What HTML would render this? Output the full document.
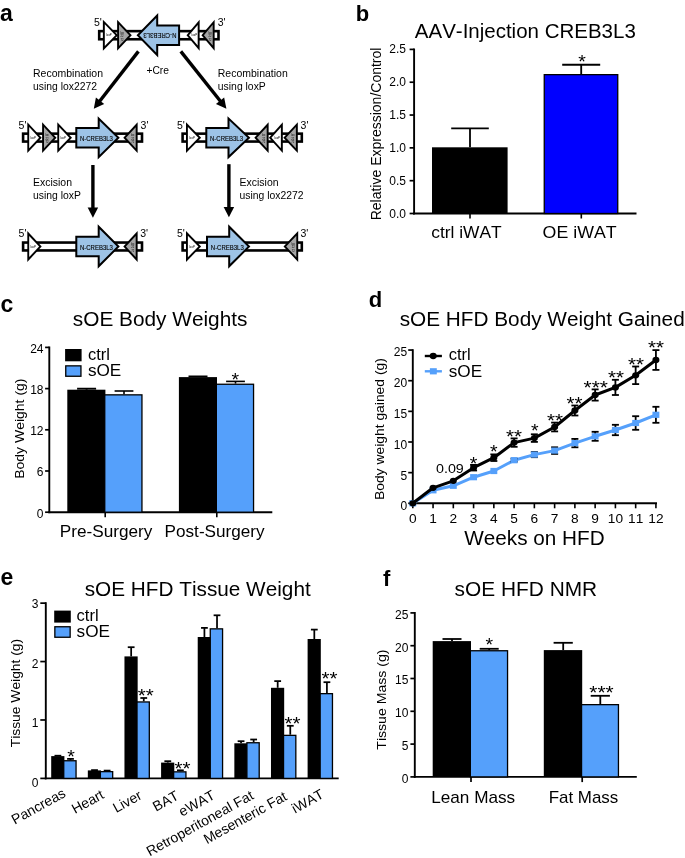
<!DOCTYPE html>
<html><head><meta charset="utf-8"><title>Figure</title>
<style>html,body{margin:0;padding:0;background:#fff}svg{display:block;will-change:transform}text{font-family:"Liberation Sans",sans-serif;fill:#000;font-kerning:none}</style></head><body>
<svg width="685" height="858" viewBox="0 0 685 858">
<rect width="685" height="858" fill="#fff"/>
<g id="pa">
<text x="0.1" y="20.9" font-size="23" font-weight="bold">a</text>
<rect x="97.9" y="29.85" width="121.9" height="10.7" fill="#000"/>
<rect x="100.5" y="32.45" width="116.7" height="5.5" fill="#fff"/>
<polygon points="102.9,19.7 102.9,50.7 118.1,35.2" fill="#000" stroke="none" stroke-width="0" stroke-linejoin="miter"/>
<polygon points="104.8,24.35 104.8,46.05 115.44,35.2" fill="#fff" stroke="none" stroke-width="0" stroke-linejoin="miter"/>
<text x="108.98" y="36.4" font-size="2.9" text-anchor="middle" fill="#333">loxP</text>
<polygon points="117.1,19.7 117.1,50.7 131.8,35.2" fill="#000" stroke="none" stroke-width="0" stroke-linejoin="miter"/>
<polygon points="119,24.46 119,45.94 129.18,35.2" fill="#A6A6A6" stroke="none" stroke-width="0" stroke-linejoin="miter"/>
<text x="122.1" y="33.6" font-size="2.7" text-anchor="middle" fill="#222">lox</text>
<text x="122.1" y="37.1" font-size="2.7" text-anchor="middle" fill="#222">22</text>
<text x="122.1" y="40.6" font-size="2.7" text-anchor="middle" fill="#222">72</text>
<polygon points="180.1,24.4 158.2,24.4 158.2,13 136.5,35.2 158.2,57.4 158.2,46 180.1,46" fill="#000" stroke="none" stroke-width="0" stroke-linejoin="miter"/>
<polygon points="178.1,26.4 156.2,26.4 156.2,17.91 139.3,35.2 156.2,52.49 156.2,44 178.1,44" fill="#9DC3E6" stroke="none" stroke-width="0" stroke-linejoin="miter"/>
<polygon points="199.6,19.7 199.6,50.7 186.5,35.2" fill="#000" stroke="none" stroke-width="0" stroke-linejoin="miter"/>
<polygon points="197.7,24.89 197.7,45.51 188.99,35.2" fill="#fff" stroke="none" stroke-width="0" stroke-linejoin="miter"/>
<text x="194.36" y="36.4" font-size="2.9" text-anchor="middle" fill="#333">loxP</text>
<polygon points="214.6,19.7 214.6,50.7 201.4,35.2" fill="#000" stroke="none" stroke-width="0" stroke-linejoin="miter"/>
<polygon points="212.7,24.86 212.7,45.54 203.9,35.2" fill="#A6A6A6" stroke="none" stroke-width="0" stroke-linejoin="miter"/>
<text x="210.11" y="33.6" font-size="2.7" text-anchor="middle" fill="#222">lox</text>
<text x="210.11" y="37.1" font-size="2.7" text-anchor="middle" fill="#222">22</text>
<text x="210.11" y="40.6" font-size="2.7" text-anchor="middle" fill="#222">72</text>
<text x="176.4" y="33" font-size="6.8" textLength="33.0" lengthAdjust="spacingAndGlyphs" fill="#1a1a1a" stroke="#1a1a1a" stroke-width="0.15" transform="rotate(180 176.4 33)">N-CREB3L3</text>
<text x="94" y="25.5" font-size="10.5">5'</text>
<text x="217.7" y="25.5" font-size="10.5">3'</text>
<rect x="21.8" y="132.35" width="121.5" height="10.5" fill="#000"/>
<rect x="24.4" y="134.95" width="116.3" height="5.3" fill="#fff"/>
<polygon points="27.3,122.3 27.3,153.1 41.7,137.7" fill="#000" stroke="none" stroke-width="0" stroke-linejoin="miter"/>
<polygon points="29.2,127.11 29.2,148.29 39.1,137.7" fill="#fff" stroke="none" stroke-width="0" stroke-linejoin="miter"/>
<text x="33.06" y="138.9" font-size="2.9" text-anchor="middle" fill="#333">loxP</text>
<polygon points="42.1,122.3 42.1,153.1 56.5,137.7" fill="#000" stroke="none" stroke-width="0" stroke-linejoin="miter"/>
<polygon points="44,127.11 44,148.29 53.9,137.7" fill="#A6A6A6" stroke="none" stroke-width="0" stroke-linejoin="miter"/>
<text x="47" y="136.1" font-size="2.7" text-anchor="middle" fill="#222">lox</text>
<text x="47" y="139.6" font-size="2.7" text-anchor="middle" fill="#222">22</text>
<text x="47" y="143.1" font-size="2.7" text-anchor="middle" fill="#222">72</text>
<polygon points="57.3,122.3 57.3,153.1 72,137.7" fill="#000" stroke="none" stroke-width="0" stroke-linejoin="miter"/>
<polygon points="59.2,127.04 59.2,148.36 69.37,137.7" fill="#fff" stroke="none" stroke-width="0" stroke-linejoin="miter"/>
<text x="63.18" y="138.9" font-size="2.9" text-anchor="middle" fill="#333">loxP</text>
<polygon points="75.3,127 97.7,127 97.7,116.2 119.8,137.8 97.7,159.4 97.7,148.6 75.3,148.6" fill="#000" stroke="none" stroke-width="0" stroke-linejoin="miter"/>
<polygon points="77.3,129 99.7,129 99.7,120.95 116.94,137.8 99.7,154.65 99.7,146.6 77.3,146.6" fill="#9DC3E6" stroke="none" stroke-width="0" stroke-linejoin="miter"/>
<polygon points="137.6,122.3 137.6,153.1 123.3,137.7" fill="#000" stroke="none" stroke-width="0" stroke-linejoin="miter"/>
<polygon points="135.7,127.14 135.7,148.26 125.89,137.7" fill="#A6A6A6" stroke="none" stroke-width="0" stroke-linejoin="miter"/>
<text x="132.74" y="136.1" font-size="2.7" text-anchor="middle" fill="#222">lox</text>
<text x="132.74" y="139.6" font-size="2.7" text-anchor="middle" fill="#222">22</text>
<text x="132.74" y="143.1" font-size="2.7" text-anchor="middle" fill="#222">72</text>
<text x="79.9" y="140.6" font-size="6.8" textLength="33.0" lengthAdjust="spacingAndGlyphs" fill="#1a1a1a" stroke="#1a1a1a" stroke-width="0.15">N-CREB3L3</text>
<text x="18.6" y="128.6" font-size="10.5">5'</text>
<text x="140.6" y="128.6" font-size="10.5">3'</text>
<rect x="181.3" y="132.35" width="121.8" height="10.5" fill="#000"/>
<rect x="183.9" y="134.95" width="116.6" height="5.3" fill="#fff"/>
<polygon points="186,122.3 186,153.1 201.1,137.7" fill="#000" stroke="none" stroke-width="0" stroke-linejoin="miter"/>
<polygon points="187.9,126.95 187.9,148.45 198.44,137.7" fill="#fff" stroke="none" stroke-width="0" stroke-linejoin="miter"/>
<text x="192.04" y="138.9" font-size="2.9" text-anchor="middle" fill="#333">loxP</text>
<polygon points="205.3,127 227.5,127 227.5,116.2 250.4,137.8 227.5,159.4 227.5,148.6 205.3,148.6" fill="#000" stroke="none" stroke-width="0" stroke-linejoin="miter"/>
<polygon points="207.3,129 229.5,129 229.5,120.84 247.49,137.8 229.5,154.76 229.5,146.6 207.3,146.6" fill="#9DC3E6" stroke="none" stroke-width="0" stroke-linejoin="miter"/>
<polygon points="268.6,122.3 268.6,153.1 254.3,137.7" fill="#000" stroke="none" stroke-width="0" stroke-linejoin="miter"/>
<polygon points="266.7,127.14 266.7,148.26 256.89,137.7" fill="#A6A6A6" stroke="none" stroke-width="0" stroke-linejoin="miter"/>
<text x="263.74" y="136.1" font-size="2.7" text-anchor="middle" fill="#222">lox</text>
<text x="263.74" y="139.6" font-size="2.7" text-anchor="middle" fill="#222">22</text>
<text x="263.74" y="143.1" font-size="2.7" text-anchor="middle" fill="#222">72</text>
<polygon points="282.8,122.3 282.8,153.1 268.9,137.7" fill="#000" stroke="none" stroke-width="0" stroke-linejoin="miter"/>
<polygon points="280.9,127.24 280.9,148.16 271.46,137.7" fill="#fff" stroke="none" stroke-width="0" stroke-linejoin="miter"/>
<text x="277.24" y="138.9" font-size="2.9" text-anchor="middle" fill="#333">loxP</text>
<polygon points="297.8,122.3 297.8,153.1 283.3,137.7" fill="#000" stroke="none" stroke-width="0" stroke-linejoin="miter"/>
<polygon points="295.9,127.09 295.9,148.31 285.91,137.7" fill="#A6A6A6" stroke="none" stroke-width="0" stroke-linejoin="miter"/>
<text x="292.87" y="136.1" font-size="2.7" text-anchor="middle" fill="#222">lox</text>
<text x="292.87" y="139.6" font-size="2.7" text-anchor="middle" fill="#222">22</text>
<text x="292.87" y="143.1" font-size="2.7" text-anchor="middle" fill="#222">72</text>
<text x="210" y="140.6" font-size="6.8" textLength="33.0" lengthAdjust="spacingAndGlyphs" fill="#1a1a1a" stroke="#1a1a1a" stroke-width="0.15">N-CREB3L3</text>
<text x="177" y="128.6" font-size="10.5">5'</text>
<text x="300.6" y="128.6" font-size="10.5">3'</text>
<rect x="21.8" y="241.25" width="121.5" height="10.5" fill="#000"/>
<rect x="24.4" y="243.85" width="116.3" height="5.3" fill="#fff"/>
<polygon points="27.3,231.1 27.3,261.9 41.7,246.5" fill="#000" stroke="none" stroke-width="0" stroke-linejoin="miter"/>
<polygon points="29.2,235.91 29.2,257.09 39.1,246.5" fill="#fff" stroke="none" stroke-width="0" stroke-linejoin="miter"/>
<text x="33.06" y="247.7" font-size="2.9" text-anchor="middle" fill="#333">loxP</text>
<polygon points="75.3,235.7 97.7,235.7 97.7,224.3 119.8,246.5 97.7,268.7 97.7,257.3 75.3,257.3" fill="#000" stroke="none" stroke-width="0" stroke-linejoin="miter"/>
<polygon points="77.3,237.7 99.7,237.7 99.7,229.14 116.98,246.5 99.7,263.86 99.7,255.3 77.3,255.3" fill="#9DC3E6" stroke="none" stroke-width="0" stroke-linejoin="miter"/>
<polygon points="137.6,231.1 137.6,261.9 123.3,246.5" fill="#000" stroke="none" stroke-width="0" stroke-linejoin="miter"/>
<polygon points="135.7,235.94 135.7,257.06 125.89,246.5" fill="#A6A6A6" stroke="none" stroke-width="0" stroke-linejoin="miter"/>
<text x="132.74" y="244.9" font-size="2.7" text-anchor="middle" fill="#222">lox</text>
<text x="132.74" y="248.4" font-size="2.7" text-anchor="middle" fill="#222">22</text>
<text x="132.74" y="251.9" font-size="2.7" text-anchor="middle" fill="#222">72</text>
<text x="79.9" y="249.6" font-size="6.8" textLength="33.0" lengthAdjust="spacingAndGlyphs" fill="#1a1a1a" stroke="#1a1a1a" stroke-width="0.15">N-CREB3L3</text>
<text x="18.6" y="237.3" font-size="10.5">5'</text>
<text x="140.2" y="237.3" font-size="10.5">3'</text>
<rect x="181.3" y="241.25" width="121.8" height="10.5" fill="#000"/>
<rect x="183.9" y="243.85" width="116.6" height="5.3" fill="#fff"/>
<polygon points="186,231.1 186,261.9 201.1,246.5" fill="#000" stroke="none" stroke-width="0" stroke-linejoin="miter"/>
<polygon points="187.9,235.75 187.9,257.25 198.44,246.5" fill="#fff" stroke="none" stroke-width="0" stroke-linejoin="miter"/>
<text x="192.04" y="247.7" font-size="2.9" text-anchor="middle" fill="#333">loxP</text>
<polygon points="206,235.7 228.2,235.7 228.2,224.3 250.4,246.5 228.2,268.7 228.2,257.3 206,257.3" fill="#000" stroke="none" stroke-width="0" stroke-linejoin="miter"/>
<polygon points="208,237.7 230.2,237.7 230.2,229.13 247.57,246.5 230.2,263.87 230.2,255.3 208,255.3" fill="#9DC3E6" stroke="none" stroke-width="0" stroke-linejoin="miter"/>
<polygon points="298.2,231.1 298.2,261.9 283.5,246.5" fill="#000" stroke="none" stroke-width="0" stroke-linejoin="miter"/>
<polygon points="296.3,235.84 296.3,257.16 286.13,246.5" fill="#A6A6A6" stroke="none" stroke-width="0" stroke-linejoin="miter"/>
<text x="293.2" y="244.9" font-size="2.7" text-anchor="middle" fill="#222">lox</text>
<text x="293.2" y="248.4" font-size="2.7" text-anchor="middle" fill="#222">22</text>
<text x="293.2" y="251.9" font-size="2.7" text-anchor="middle" fill="#222">72</text>
<text x="210.8" y="249.6" font-size="6.8" textLength="33.0" lengthAdjust="spacingAndGlyphs" fill="#1a1a1a" stroke="#1a1a1a" stroke-width="0.15">N-CREB3L3</text>
<text x="177" y="237.3" font-size="10.5">5'</text>
<text x="300.4" y="237.3" font-size="10.5">3'</text>
<line x1="138.4" y1="51.4" x2="99.45" y2="101.44" stroke="#000" stroke-width="3.4"/>
<polygon points="93.8,108.7 95.92,97.43 104.21,103.88" fill="#000" stroke="none" stroke-width="0" stroke-linejoin="miter"/>
<line x1="180.8" y1="51.4" x2="220.67" y2="101.5" stroke="#000" stroke-width="3.4"/>
<polygon points="226.4,108.7 215.94,103.99 224.16,97.45" fill="#000" stroke="none" stroke-width="0" stroke-linejoin="miter"/>
<line x1="92.9" y1="165" x2="92.9" y2="208.6" stroke="#000" stroke-width="3.4"/>
<polygon points="92.9,217.8 87.65,207.6 98.15,207.6" fill="#000" stroke="none" stroke-width="0" stroke-linejoin="miter"/>
<line x1="228.9" y1="164.2" x2="228.9" y2="208" stroke="#000" stroke-width="3.4"/>
<polygon points="228.9,217.2 223.65,207 234.15,207" fill="#000" stroke="none" stroke-width="0" stroke-linejoin="miter"/>
<text x="33" y="77.3" font-size="10.5" textLength="70" lengthAdjust="spacingAndGlyphs">Recombination</text>
<text x="33" y="90.2" font-size="10.5" textLength="64" lengthAdjust="spacingAndGlyphs">using lox2272</text>
<text x="146.4" y="74" font-size="10.5" textLength="22.6" lengthAdjust="spacingAndGlyphs">+Cre</text>
<text x="217.8" y="77.3" font-size="10.5" textLength="70" lengthAdjust="spacingAndGlyphs">Recombination</text>
<text x="217.8" y="90.2" font-size="10.5" textLength="48" lengthAdjust="spacingAndGlyphs">using loxP</text>
<text x="33" y="185.8" font-size="10.5" textLength="39" lengthAdjust="spacingAndGlyphs">Excision</text>
<text x="33" y="198.9" font-size="10.5" textLength="48" lengthAdjust="spacingAndGlyphs">using loxP</text>
<text x="239.6" y="185.8" font-size="10.5" textLength="39" lengthAdjust="spacingAndGlyphs">Excision</text>
<text x="239.6" y="198.9" font-size="10.5" textLength="64" lengthAdjust="spacingAndGlyphs">using lox2272</text>
</g>
<g id="pb">
<text x="355.7" y="20.8" font-size="22" font-weight="bold">b</text>
<text x="414.8" y="37.8" font-size="20" textLength="221" lengthAdjust="spacingAndGlyphs">AAV-Injection CREB3L3</text>
<text x="381.5" y="220.3" font-size="14" textLength="172.7" lengthAdjust="spacingAndGlyphs" transform="rotate(-90 381.5 220.3)">Relative Expression/Control</text>
<line x1="414.1" y1="48.5" x2="414.1" y2="214.45" stroke="#000" stroke-width="1.9"/>
<line x1="413.15" y1="213.5" x2="636.5" y2="213.5" stroke="#000" stroke-width="1.9"/>
<line x1="409.6" y1="213.5" x2="414.1" y2="213.5" stroke="#000" stroke-width="1.7"/>
<text x="405.9" y="217.6" font-size="12" text-anchor="end">0.0</text>
<line x1="409.6" y1="180.68" x2="414.1" y2="180.68" stroke="#000" stroke-width="1.7"/>
<text x="405.9" y="184.62" font-size="12" text-anchor="end">0.5</text>
<line x1="409.6" y1="147.86" x2="414.1" y2="147.86" stroke="#000" stroke-width="1.7"/>
<text x="405.9" y="151.64" font-size="12" text-anchor="end">1.0</text>
<line x1="409.6" y1="115.04" x2="414.1" y2="115.04" stroke="#000" stroke-width="1.7"/>
<text x="405.9" y="118.66" font-size="12" text-anchor="end">1.5</text>
<line x1="409.6" y1="82.22" x2="414.1" y2="82.22" stroke="#000" stroke-width="1.7"/>
<text x="405.9" y="85.68" font-size="12" text-anchor="end">2.0</text>
<line x1="409.6" y1="49.4" x2="414.1" y2="49.4" stroke="#000" stroke-width="1.7"/>
<text x="405.9" y="52.7" font-size="12" text-anchor="end">2.5</text>
<rect x="432" y="147.3" width="75.6" height="66.2" fill="#000"/>
<line x1="470" y1="147.3" x2="470" y2="128.3" stroke="#000" stroke-width="1.8"/>
<line x1="451.2" y1="128.3" x2="488.8" y2="128.3" stroke="#000" stroke-width="1.8"/>
<rect x="544.25" y="74.65" width="73.5" height="138.85" fill="#0000FF" stroke="#000" stroke-width="1.3"/>
<line x1="581.2" y1="74" x2="581.2" y2="64.7" stroke="#000" stroke-width="1.85"/>
<line x1="562.2" y1="64.7" x2="600.2" y2="64.7" stroke="#000" stroke-width="1.85"/>
<line x1="470" y1="213.5" x2="470" y2="218.5" stroke="#000" stroke-width="1.6"/>
<line x1="581.3" y1="213.5" x2="581.3" y2="218.5" stroke="#000" stroke-width="1.6"/>
<text x="578.2" y="68.2" font-size="19" textLength="7.6" lengthAdjust="spacingAndGlyphs">*</text>
<text x="431.2" y="237.5" font-size="17" textLength="70.5" lengthAdjust="spacingAndGlyphs">ctrl iWAT</text>
<text x="542.6" y="237.5" font-size="17" textLength="74" lengthAdjust="spacingAndGlyphs">OE iWAT</text>
</g>
<g id="pc">
<text x="0.5" y="311.9" font-size="23" font-weight="bold">c</text>
<text x="72.8" y="325.7" font-size="20" textLength="174.6" lengthAdjust="spacingAndGlyphs">sOE Body Weights</text>
<text x="24" y="478.8" font-size="13.7" textLength="100.3" lengthAdjust="spacingAndGlyphs" transform="rotate(-90 24 478.8)">Body Weight (g)</text>
<line x1="49.3" y1="346.5" x2="49.3" y2="513.15" stroke="#000" stroke-width="1.9"/>
<line x1="48.35" y1="512.2" x2="272.3" y2="512.2" stroke="#000" stroke-width="1.9"/>
<line x1="45.1" y1="512.2" x2="49.3" y2="512.2" stroke="#000" stroke-width="1.7"/>
<text x="43.5" y="517.5" font-size="12" text-anchor="end">0</text>
<line x1="45.1" y1="471" x2="49.3" y2="471" stroke="#000" stroke-width="1.7"/>
<text x="43.5" y="476.37" font-size="12" text-anchor="end">6</text>
<line x1="45.1" y1="429.8" x2="49.3" y2="429.8" stroke="#000" stroke-width="1.7"/>
<text x="43.5" y="435.24" font-size="12" text-anchor="end">12</text>
<line x1="45.1" y1="388.6" x2="49.3" y2="388.6" stroke="#000" stroke-width="1.7"/>
<text x="43.5" y="394.11" font-size="12" text-anchor="end">18</text>
<line x1="45.1" y1="347.4" x2="49.3" y2="347.4" stroke="#000" stroke-width="1.7"/>
<text x="43.5" y="352.98" font-size="12" text-anchor="end">24</text>
<rect x="65.1" y="349" width="16.5" height="12.3" fill="#000"/>
<rect x="65.75" y="365.85" width="15.2" height="10.4" fill="#55A0FB" stroke="#000" stroke-width="1.3"/>
<text x="87.9" y="360" font-size="17" textLength="22" lengthAdjust="spacingAndGlyphs">ctrl</text>
<text x="87.9" y="376.3" font-size="17" textLength="33.4" lengthAdjust="spacingAndGlyphs">sOE</text>
<rect x="67.3" y="389.7" width="38.1" height="122.5" fill="#000"/>
<line x1="86.6" y1="389.7" x2="86.6" y2="388.7" stroke="#000" stroke-width="1.9"/>
<line x1="77.1" y1="388.7" x2="96.1" y2="388.7" stroke="#000" stroke-width="1.9"/>
<rect x="104.75" y="394.85" width="37.2" height="117.35" fill="#55A0FB" stroke="#000" stroke-width="1.3"/>
<line x1="124" y1="394.2" x2="124" y2="391" stroke="#000" stroke-width="1.6"/>
<line x1="114.6" y1="391" x2="133.4" y2="391" stroke="#000" stroke-width="1.6"/>
<rect x="178.9" y="377.1" width="38.1" height="135.1" fill="#000"/>
<line x1="198" y1="377.1" x2="198" y2="376.4" stroke="#000" stroke-width="1.8"/>
<line x1="188.5" y1="376.4" x2="207.5" y2="376.4" stroke="#000" stroke-width="1.8"/>
<rect x="216.35" y="384.25" width="37.2" height="127.95" fill="#55A0FB" stroke="#000" stroke-width="1.3"/>
<line x1="235.5" y1="383.6" x2="235.5" y2="381.4" stroke="#000" stroke-width="1.6"/>
<line x1="226.1" y1="381.4" x2="244.9" y2="381.4" stroke="#000" stroke-width="1.6"/>
<text x="231.5" y="385.9" font-size="19" textLength="7.6" lengthAdjust="spacingAndGlyphs">*</text>
<line x1="105.2" y1="512.2" x2="105.2" y2="517.2" stroke="#000" stroke-width="1.6"/>
<line x1="216.8" y1="512.2" x2="216.8" y2="517.2" stroke="#000" stroke-width="1.6"/>
<text x="59.8" y="537.3" font-size="17" textLength="92.6" lengthAdjust="spacingAndGlyphs">Pre-Surgery</text>
<text x="164.6" y="537.3" font-size="17" textLength="100" lengthAdjust="spacingAndGlyphs">Post-Surgery</text>
</g>
<g id="pd">
<text x="368.7" y="307.3" font-size="22" font-weight="bold">d</text>
<text x="399.7" y="325.5" font-size="20" textLength="285" lengthAdjust="spacingAndGlyphs">sOE HFD Body Weight Gained</text>
<text x="383.8" y="500.1" font-size="13.7" textLength="142" lengthAdjust="spacingAndGlyphs" transform="rotate(-90 383.8 500.1)">Body weight gained (g)</text>
<line x1="412.8" y1="349.2" x2="412.8" y2="504.25" stroke="#000" stroke-width="1.9"/>
<line x1="411.85" y1="503.3" x2="657" y2="503.3" stroke="#000" stroke-width="1.9"/>
<line x1="408.2" y1="503.3" x2="412.8" y2="503.3" stroke="#000" stroke-width="1.7"/>
<text x="407.1" y="510.4" font-size="12" text-anchor="end">0</text>
<line x1="408.2" y1="472.65" x2="412.8" y2="472.65" stroke="#000" stroke-width="1.7"/>
<text x="407.1" y="479.55" font-size="12" text-anchor="end">5</text>
<line x1="408.2" y1="442" x2="412.8" y2="442" stroke="#000" stroke-width="1.7"/>
<text x="407.1" y="448.7" font-size="12" text-anchor="end">10</text>
<line x1="408.2" y1="411.35" x2="412.8" y2="411.35" stroke="#000" stroke-width="1.7"/>
<text x="407.1" y="417.85" font-size="12" text-anchor="end">15</text>
<line x1="408.2" y1="380.7" x2="412.8" y2="380.7" stroke="#000" stroke-width="1.7"/>
<text x="407.1" y="387" font-size="12" text-anchor="end">20</text>
<line x1="408.2" y1="350.05" x2="412.8" y2="350.05" stroke="#000" stroke-width="1.7"/>
<text x="407.1" y="356.15" font-size="12" text-anchor="end">25</text>
<line x1="412.8" y1="503.3" x2="412.8" y2="508.3" stroke="#000" stroke-width="1.6"/>
<text x="412.8" y="523.3" font-size="13.7" text-anchor="middle">0</text>
<line x1="433.06" y1="503.3" x2="433.06" y2="508.3" stroke="#000" stroke-width="1.6"/>
<text x="433.06" y="523.3" font-size="13.7" text-anchor="middle">1</text>
<line x1="453.32" y1="503.3" x2="453.32" y2="508.3" stroke="#000" stroke-width="1.6"/>
<text x="453.32" y="523.3" font-size="13.7" text-anchor="middle">2</text>
<line x1="473.58" y1="503.3" x2="473.58" y2="508.3" stroke="#000" stroke-width="1.6"/>
<text x="473.58" y="523.3" font-size="13.7" text-anchor="middle">3</text>
<line x1="493.84" y1="503.3" x2="493.84" y2="508.3" stroke="#000" stroke-width="1.6"/>
<text x="493.84" y="523.3" font-size="13.7" text-anchor="middle">4</text>
<line x1="514.1" y1="503.3" x2="514.1" y2="508.3" stroke="#000" stroke-width="1.6"/>
<text x="514.1" y="523.3" font-size="13.7" text-anchor="middle">5</text>
<line x1="534.36" y1="503.3" x2="534.36" y2="508.3" stroke="#000" stroke-width="1.6"/>
<text x="534.36" y="523.3" font-size="13.7" text-anchor="middle">6</text>
<line x1="554.62" y1="503.3" x2="554.62" y2="508.3" stroke="#000" stroke-width="1.6"/>
<text x="554.62" y="523.3" font-size="13.7" text-anchor="middle">7</text>
<line x1="574.88" y1="503.3" x2="574.88" y2="508.3" stroke="#000" stroke-width="1.6"/>
<text x="574.88" y="523.3" font-size="13.7" text-anchor="middle">8</text>
<line x1="595.14" y1="503.3" x2="595.14" y2="508.3" stroke="#000" stroke-width="1.6"/>
<text x="595.14" y="523.3" font-size="13.7" text-anchor="middle">9</text>
<line x1="615.4" y1="503.3" x2="615.4" y2="508.3" stroke="#000" stroke-width="1.6"/>
<text x="615.4" y="523.3" font-size="13.7" text-anchor="middle">10</text>
<line x1="635.66" y1="503.3" x2="635.66" y2="508.3" stroke="#000" stroke-width="1.6"/>
<text x="635.66" y="523.3" font-size="13.7" text-anchor="middle">11</text>
<line x1="655.92" y1="503.3" x2="655.92" y2="508.3" stroke="#000" stroke-width="1.6"/>
<text x="655.92" y="523.3" font-size="13.7" text-anchor="middle">12</text>
<text x="464.3" y="545" font-size="20" textLength="140.3" lengthAdjust="spacingAndGlyphs">Weeks on HFD</text>
<polyline points="412.8,503.3 433.06,490.3 453.32,485.8 473.58,477.2 493.84,471 514.1,460.2 534.36,454.6 554.62,450.6 574.88,443.1 595.14,436.3 615.4,430 635.66,423 655.92,414.8" fill="none" stroke="#55A0FB" stroke-width="3" stroke-linejoin="round"/>
<rect x="409.35" y="500.2" width="6.9" height="6.2" fill="#55A0FB"/>
<rect x="429.61" y="487.2" width="6.9" height="6.2" fill="#55A0FB"/>
<rect x="449.87" y="482.7" width="6.9" height="6.2" fill="#55A0FB"/>
<rect x="470.13" y="474.1" width="6.9" height="6.2" fill="#55A0FB"/>
<rect x="490.39" y="467.9" width="6.9" height="6.2" fill="#55A0FB"/>
<line x1="514.1" y1="458.7" x2="514.1" y2="461.7" stroke="#000" stroke-width="1.8"/>
<line x1="510.6" y1="461.7" x2="517.6" y2="461.7" stroke="#000" stroke-width="1.8"/>
<line x1="510.6" y1="458.7" x2="517.6" y2="458.7" stroke="#000" stroke-width="1.8"/>
<rect x="510.65" y="457.1" width="6.9" height="6.2" fill="#55A0FB"/>
<line x1="534.36" y1="452" x2="534.36" y2="457.2" stroke="#000" stroke-width="1.8"/>
<line x1="530.86" y1="457.2" x2="537.86" y2="457.2" stroke="#000" stroke-width="1.8"/>
<line x1="530.86" y1="452" x2="537.86" y2="452" stroke="#000" stroke-width="1.8"/>
<rect x="530.91" y="451.5" width="6.9" height="6.2" fill="#55A0FB"/>
<line x1="554.62" y1="447.3" x2="554.62" y2="453.9" stroke="#000" stroke-width="1.8"/>
<line x1="551.12" y1="453.9" x2="558.12" y2="453.9" stroke="#000" stroke-width="1.8"/>
<line x1="551.12" y1="447.3" x2="558.12" y2="447.3" stroke="#000" stroke-width="1.8"/>
<rect x="551.17" y="447.5" width="6.9" height="6.2" fill="#55A0FB"/>
<line x1="574.88" y1="438.9" x2="574.88" y2="447.3" stroke="#000" stroke-width="1.8"/>
<line x1="571.38" y1="447.3" x2="578.38" y2="447.3" stroke="#000" stroke-width="1.8"/>
<line x1="571.38" y1="438.9" x2="578.38" y2="438.9" stroke="#000" stroke-width="1.8"/>
<rect x="571.43" y="440" width="6.9" height="6.2" fill="#55A0FB"/>
<line x1="595.14" y1="431.8" x2="595.14" y2="440.8" stroke="#000" stroke-width="1.8"/>
<line x1="591.64" y1="440.8" x2="598.64" y2="440.8" stroke="#000" stroke-width="1.8"/>
<line x1="591.64" y1="431.8" x2="598.64" y2="431.8" stroke="#000" stroke-width="1.8"/>
<rect x="591.69" y="433.2" width="6.9" height="6.2" fill="#55A0FB"/>
<line x1="615.4" y1="424.8" x2="615.4" y2="435.2" stroke="#000" stroke-width="1.8"/>
<line x1="611.9" y1="435.2" x2="618.9" y2="435.2" stroke="#000" stroke-width="1.8"/>
<line x1="611.9" y1="424.8" x2="618.9" y2="424.8" stroke="#000" stroke-width="1.8"/>
<rect x="611.95" y="426.9" width="6.9" height="6.2" fill="#55A0FB"/>
<line x1="635.66" y1="416.2" x2="635.66" y2="429.8" stroke="#000" stroke-width="1.8"/>
<line x1="632.16" y1="429.8" x2="639.16" y2="429.8" stroke="#000" stroke-width="1.8"/>
<line x1="632.16" y1="416.2" x2="639.16" y2="416.2" stroke="#000" stroke-width="1.8"/>
<rect x="632.21" y="419.9" width="6.9" height="6.2" fill="#55A0FB"/>
<line x1="655.92" y1="406.8" x2="655.92" y2="422.8" stroke="#000" stroke-width="1.8"/>
<line x1="652.42" y1="422.8" x2="659.42" y2="422.8" stroke="#000" stroke-width="1.8"/>
<line x1="652.42" y1="406.8" x2="659.42" y2="406.8" stroke="#000" stroke-width="1.8"/>
<rect x="652.47" y="411.7" width="6.9" height="6.2" fill="#55A0FB"/>
<polyline points="412.8,503.3 433.06,487.8 453.32,480.8 473.58,467.7 493.84,457.7 514.1,442.6 534.36,438.1 554.62,427 574.88,410.5 595.14,395 615.4,387.4 635.66,375.3 655.92,360" fill="none" stroke="#000" stroke-width="3" stroke-linejoin="round"/>
<ellipse cx="412.8" cy="503.3" rx="3.5" ry="3.15" fill="#000"/>
<ellipse cx="433.06" cy="487.8" rx="3.5" ry="3.15" fill="#000"/>
<ellipse cx="453.32" cy="480.8" rx="3.5" ry="3.15" fill="#000"/>
<line x1="473.58" y1="464.9" x2="473.58" y2="470.5" stroke="#000" stroke-width="1.8"/>
<line x1="470.08" y1="470.5" x2="477.08" y2="470.5" stroke="#000" stroke-width="1.8"/>
<line x1="470.08" y1="464.9" x2="477.08" y2="464.9" stroke="#000" stroke-width="1.8"/>
<ellipse cx="473.58" cy="467.7" rx="3.5" ry="3.15" fill="#000"/>
<line x1="493.84" y1="454.4" x2="493.84" y2="461" stroke="#000" stroke-width="1.8"/>
<line x1="490.34" y1="461" x2="497.34" y2="461" stroke="#000" stroke-width="1.8"/>
<line x1="490.34" y1="454.4" x2="497.34" y2="454.4" stroke="#000" stroke-width="1.8"/>
<ellipse cx="493.84" cy="457.7" rx="3.5" ry="3.15" fill="#000"/>
<line x1="514.1" y1="438.4" x2="514.1" y2="446.8" stroke="#000" stroke-width="1.8"/>
<line x1="510.6" y1="446.8" x2="517.6" y2="446.8" stroke="#000" stroke-width="1.8"/>
<line x1="510.6" y1="438.4" x2="517.6" y2="438.4" stroke="#000" stroke-width="1.8"/>
<ellipse cx="514.1" cy="442.6" rx="3.5" ry="3.15" fill="#000"/>
<line x1="534.36" y1="434.3" x2="534.36" y2="441.9" stroke="#000" stroke-width="1.8"/>
<line x1="530.86" y1="441.9" x2="537.86" y2="441.9" stroke="#000" stroke-width="1.8"/>
<line x1="530.86" y1="434.3" x2="537.86" y2="434.3" stroke="#000" stroke-width="1.8"/>
<ellipse cx="534.36" cy="438.1" rx="3.5" ry="3.15" fill="#000"/>
<line x1="554.62" y1="422.6" x2="554.62" y2="431.4" stroke="#000" stroke-width="1.8"/>
<line x1="551.12" y1="431.4" x2="558.12" y2="431.4" stroke="#000" stroke-width="1.8"/>
<line x1="551.12" y1="422.6" x2="558.12" y2="422.6" stroke="#000" stroke-width="1.8"/>
<ellipse cx="554.62" cy="427" rx="3.5" ry="3.15" fill="#000"/>
<line x1="574.88" y1="405.5" x2="574.88" y2="415.5" stroke="#000" stroke-width="1.8"/>
<line x1="571.38" y1="415.5" x2="578.38" y2="415.5" stroke="#000" stroke-width="1.8"/>
<line x1="571.38" y1="405.5" x2="578.38" y2="405.5" stroke="#000" stroke-width="1.8"/>
<ellipse cx="574.88" cy="410.5" rx="3.5" ry="3.15" fill="#000"/>
<line x1="595.14" y1="389.4" x2="595.14" y2="400.6" stroke="#000" stroke-width="1.8"/>
<line x1="591.64" y1="400.6" x2="598.64" y2="400.6" stroke="#000" stroke-width="1.8"/>
<line x1="591.64" y1="389.4" x2="598.64" y2="389.4" stroke="#000" stroke-width="1.8"/>
<ellipse cx="595.14" cy="395" rx="3.5" ry="3.15" fill="#000"/>
<line x1="615.4" y1="379.8" x2="615.4" y2="395" stroke="#000" stroke-width="1.8"/>
<line x1="611.9" y1="395" x2="618.9" y2="395" stroke="#000" stroke-width="1.8"/>
<line x1="611.9" y1="379.8" x2="618.9" y2="379.8" stroke="#000" stroke-width="1.8"/>
<ellipse cx="615.4" cy="387.4" rx="3.5" ry="3.15" fill="#000"/>
<line x1="635.66" y1="366.5" x2="635.66" y2="384.1" stroke="#000" stroke-width="1.8"/>
<line x1="632.16" y1="384.1" x2="639.16" y2="384.1" stroke="#000" stroke-width="1.8"/>
<line x1="632.16" y1="366.5" x2="639.16" y2="366.5" stroke="#000" stroke-width="1.8"/>
<ellipse cx="635.66" cy="375.3" rx="3.5" ry="3.15" fill="#000"/>
<line x1="655.92" y1="350.1" x2="655.92" y2="369.9" stroke="#000" stroke-width="1.8"/>
<line x1="652.42" y1="369.9" x2="659.42" y2="369.9" stroke="#000" stroke-width="1.8"/>
<line x1="652.42" y1="350.1" x2="659.42" y2="350.1" stroke="#000" stroke-width="1.8"/>
<ellipse cx="655.92" cy="360" rx="3.5" ry="3.15" fill="#000"/>
<line x1="424.8" y1="356" x2="441.9" y2="356" stroke="#000" stroke-width="2.4"/>
<ellipse cx="433.2" cy="356" rx="3.5" ry="3.15" fill="#000"/>
<line x1="424.8" y1="371.3" x2="441.9" y2="371.3" stroke="#55A0FB" stroke-width="2.4"/>
<rect x="429.9" y="368.2" width="6.9" height="6.2" fill="#55A0FB"/>
<text x="448.7" y="360" font-size="17" textLength="22" lengthAdjust="spacingAndGlyphs">ctrl</text>
<text x="448.7" y="377" font-size="17" textLength="33.4" lengthAdjust="spacingAndGlyphs">sOE</text>
<text x="469.8" y="469.7" font-size="19" textLength="7.6" lengthAdjust="spacingAndGlyphs">*</text>
<text x="490.1" y="457.6" font-size="19" textLength="7.6" lengthAdjust="spacingAndGlyphs">*</text>
<text x="506" y="442.5" font-size="19" textLength="16" lengthAdjust="spacingAndGlyphs">**</text>
<text x="531" y="437" font-size="19" textLength="7.6" lengthAdjust="spacingAndGlyphs">*</text>
<text x="547" y="426.8" font-size="19" textLength="16" lengthAdjust="spacingAndGlyphs">**</text>
<text x="566.5" y="409.7" font-size="19" textLength="16" lengthAdjust="spacingAndGlyphs">**</text>
<text x="583.6" y="393.6" font-size="19" textLength="24.4" lengthAdjust="spacingAndGlyphs">***</text>
<text x="608" y="383.6" font-size="19" textLength="16" lengthAdjust="spacingAndGlyphs">**</text>
<text x="628" y="371" font-size="19" textLength="16" lengthAdjust="spacingAndGlyphs">**</text>
<text x="648" y="354" font-size="19" textLength="16" lengthAdjust="spacingAndGlyphs">**</text>
<text x="436" y="472.9" font-size="13" textLength="27.8" lengthAdjust="spacingAndGlyphs">0.09</text>
</g>
<g id="pe">
<text x="0.6" y="584.8" font-size="23" font-weight="bold">e</text>
<text x="84.7" y="595.6" font-size="20" textLength="226" lengthAdjust="spacingAndGlyphs">sOE HFD Tissue Weight</text>
<text x="20.2" y="747.3" font-size="13.7" textLength="108.5" lengthAdjust="spacingAndGlyphs" transform="rotate(-90 20.2 747.3)">Tissue Weight (g)</text>
<line x1="45.8" y1="602.2" x2="45.8" y2="779.35" stroke="#000" stroke-width="1.9"/>
<line x1="44.85" y1="778.4" x2="338.7" y2="778.4" stroke="#000" stroke-width="1.9"/>
<line x1="40.3" y1="778.4" x2="45.8" y2="778.4" stroke="#000" stroke-width="1.7"/>
<text x="38.5" y="787.2" font-size="12" text-anchor="end">0</text>
<line x1="40.3" y1="719.98" x2="45.8" y2="719.98" stroke="#000" stroke-width="1.7"/>
<text x="38.5" y="727.47" font-size="12" text-anchor="end">1</text>
<line x1="40.3" y1="661.56" x2="45.8" y2="661.56" stroke="#000" stroke-width="1.7"/>
<text x="38.5" y="667.74" font-size="12" text-anchor="end">2</text>
<line x1="40.3" y1="603.14" x2="45.8" y2="603.14" stroke="#000" stroke-width="1.7"/>
<text x="38.5" y="608.01" font-size="12" text-anchor="end">3</text>
<rect x="54.2" y="610.6" width="16.6" height="12" fill="#000"/>
<rect x="54.85" y="626.75" width="15.3" height="10.5" fill="#55A0FB" stroke="#000" stroke-width="1.3"/>
<text x="76.6" y="620.9" font-size="17" textLength="22" lengthAdjust="spacingAndGlyphs">ctrl</text>
<text x="76.6" y="637.2" font-size="17" textLength="33.4" lengthAdjust="spacingAndGlyphs">sOE</text>
<rect x="51.2" y="756.1" width="13.2" height="22.3" fill="#000"/>
<line x1="57.9" y1="756.1" x2="57.9" y2="755.7" stroke="#000" stroke-width="1.75"/>
<line x1="54.5" y1="755.7" x2="61.3" y2="755.7" stroke="#000" stroke-width="1.75"/>
<rect x="63.75" y="760.75" width="12.3" height="17.65" fill="#55A0FB" stroke="#000" stroke-width="1.3"/>
<line x1="70.5" y1="760.1" x2="70.5" y2="758.9" stroke="#000" stroke-width="1.75"/>
<line x1="67.1" y1="758.9" x2="73.9" y2="758.9" stroke="#000" stroke-width="1.75"/>
<text x="67.2" y="763.3" font-size="19" textLength="7.6" lengthAdjust="spacingAndGlyphs">*</text>
<text x="66.6" y="796.1" font-size="14" text-anchor="end" transform="rotate(-29 66.6 796.1)">Pancreas</text>
<rect x="87.83" y="770.4" width="13.2" height="8" fill="#000"/>
<line x1="94.53" y1="770.4" x2="94.53" y2="770.1" stroke="#000" stroke-width="1.75"/>
<line x1="91.13" y1="770.1" x2="97.93" y2="770.1" stroke="#000" stroke-width="1.75"/>
<rect x="100.38" y="771.65" width="12.3" height="6.75" fill="#55A0FB" stroke="#000" stroke-width="1.3"/>
<line x1="107.13" y1="771" x2="107.13" y2="770.6" stroke="#000" stroke-width="1.75"/>
<line x1="103.73" y1="770.6" x2="110.53" y2="770.6" stroke="#000" stroke-width="1.75"/>
<text x="104.95" y="797.5" font-size="14" text-anchor="end" transform="rotate(-29 104.95 797.5)">Heart</text>
<rect x="124.46" y="656.4" width="13.2" height="122" fill="#000"/>
<line x1="131.16" y1="656.4" x2="131.16" y2="647.2" stroke="#000" stroke-width="1.75"/>
<line x1="127.76" y1="647.2" x2="134.56" y2="647.2" stroke="#000" stroke-width="1.75"/>
<rect x="137.01" y="701.95" width="12.3" height="76.45" fill="#55A0FB" stroke="#000" stroke-width="1.3"/>
<line x1="143.76" y1="701.3" x2="143.76" y2="698" stroke="#000" stroke-width="1.75"/>
<line x1="140.36" y1="698" x2="147.16" y2="698" stroke="#000" stroke-width="1.75"/>
<text x="137.7" y="702" font-size="19" textLength="16" lengthAdjust="spacingAndGlyphs">**</text>
<text x="142.8" y="798.2" font-size="14" text-anchor="end" transform="rotate(-29 142.8 798.2)">Liver</text>
<rect x="161.09" y="762.6" width="13.2" height="15.8" fill="#000"/>
<line x1="167.79" y1="762.6" x2="167.79" y2="761.2" stroke="#000" stroke-width="1.75"/>
<line x1="164.39" y1="761.2" x2="171.19" y2="761.2" stroke="#000" stroke-width="1.75"/>
<rect x="173.64" y="771.85" width="12.3" height="6.55" fill="#55A0FB" stroke="#000" stroke-width="1.3"/>
<line x1="180.39" y1="771.2" x2="180.39" y2="770.3" stroke="#000" stroke-width="1.75"/>
<line x1="176.99" y1="770.3" x2="183.79" y2="770.3" stroke="#000" stroke-width="1.75"/>
<text x="174.5" y="775" font-size="19" textLength="16" lengthAdjust="spacingAndGlyphs">**</text>
<text x="179.85" y="798.5" font-size="14" text-anchor="end" transform="rotate(-29 179.85 798.5)">BAT</text>
<rect x="197.72" y="637" width="13.2" height="141.4" fill="#000"/>
<line x1="204.42" y1="637" x2="204.42" y2="627.9" stroke="#000" stroke-width="1.75"/>
<line x1="201.02" y1="627.9" x2="207.82" y2="627.9" stroke="#000" stroke-width="1.75"/>
<rect x="210.27" y="628.85" width="12.3" height="149.55" fill="#55A0FB" stroke="#000" stroke-width="1.3"/>
<line x1="217.02" y1="628.2" x2="217.02" y2="615.3" stroke="#000" stroke-width="1.75"/>
<line x1="213.62" y1="615.3" x2="220.42" y2="615.3" stroke="#000" stroke-width="1.75"/>
<text x="216.1" y="798" font-size="14" text-anchor="end" transform="rotate(-29 216.1 798)">eWAT</text>
<rect x="234.35" y="743.3" width="13.2" height="35.1" fill="#000"/>
<line x1="241.05" y1="743.3" x2="241.05" y2="741.2" stroke="#000" stroke-width="1.75"/>
<line x1="237.65" y1="741.2" x2="244.45" y2="741.2" stroke="#000" stroke-width="1.75"/>
<rect x="246.9" y="742.75" width="12.3" height="35.65" fill="#55A0FB" stroke="#000" stroke-width="1.3"/>
<line x1="253.65" y1="742.1" x2="253.65" y2="739.5" stroke="#000" stroke-width="1.75"/>
<line x1="250.25" y1="739.5" x2="257.05" y2="739.5" stroke="#000" stroke-width="1.75"/>
<text x="254.55" y="798.4" font-size="14" text-anchor="end" transform="rotate(-29 254.55 798.4)">Retroperitoneal Fat</text>
<rect x="270.98" y="687.8" width="13.2" height="90.6" fill="#000"/>
<line x1="277.68" y1="687.8" x2="277.68" y2="681.1" stroke="#000" stroke-width="1.75"/>
<line x1="274.28" y1="681.1" x2="281.08" y2="681.1" stroke="#000" stroke-width="1.75"/>
<rect x="283.53" y="735.35" width="12.3" height="43.05" fill="#55A0FB" stroke="#000" stroke-width="1.3"/>
<line x1="290.28" y1="734.7" x2="290.28" y2="725.8" stroke="#000" stroke-width="1.75"/>
<line x1="286.88" y1="725.8" x2="293.68" y2="725.8" stroke="#000" stroke-width="1.75"/>
<text x="284.4" y="729.8" font-size="19" textLength="16" lengthAdjust="spacingAndGlyphs">**</text>
<text x="287.9" y="799.3" font-size="14" text-anchor="end" transform="rotate(-29 287.9 799.3)">Mesenteric Fat</text>
<rect x="307.61" y="639" width="13.2" height="139.4" fill="#000"/>
<line x1="314.31" y1="639" x2="314.31" y2="629.6" stroke="#000" stroke-width="1.75"/>
<line x1="310.91" y1="629.6" x2="317.71" y2="629.6" stroke="#000" stroke-width="1.75"/>
<rect x="320.16" y="693.65" width="12.3" height="84.75" fill="#55A0FB" stroke="#000" stroke-width="1.3"/>
<line x1="326.91" y1="693" x2="326.91" y2="682.2" stroke="#000" stroke-width="1.75"/>
<line x1="323.51" y1="682.2" x2="330.31" y2="682.2" stroke="#000" stroke-width="1.75"/>
<text x="321.6" y="685.2" font-size="19" textLength="16" lengthAdjust="spacingAndGlyphs">**</text>
<text x="324.85" y="797.1" font-size="14" text-anchor="end" transform="rotate(-29 324.85 797.1)">iWAT</text>
</g>
<g id="pf">
<text x="382.9" y="585.9" font-size="22" font-weight="bold">f</text>
<text x="454.6" y="595.9" font-size="20" textLength="142.6" lengthAdjust="spacingAndGlyphs">sOE HFD NMR</text>
<text x="385.9" y="749.7" font-size="13.7" textLength="100.2" lengthAdjust="spacingAndGlyphs" transform="rotate(-90 385.9 749.7)">Tissue Mass (g)</text>
<line x1="414.8" y1="612" x2="414.8" y2="777.85" stroke="#000" stroke-width="1.9"/>
<line x1="413.85" y1="776.9" x2="636.8" y2="776.9" stroke="#000" stroke-width="1.9"/>
<line x1="410.4" y1="776.9" x2="414.8" y2="776.9" stroke="#000" stroke-width="1.7"/>
<text x="408.4" y="782.8" font-size="12" text-anchor="end">0</text>
<line x1="410.4" y1="744.1" x2="414.8" y2="744.1" stroke="#000" stroke-width="1.7"/>
<text x="408.4" y="750" font-size="12" text-anchor="end">5</text>
<line x1="410.4" y1="711.3" x2="414.8" y2="711.3" stroke="#000" stroke-width="1.7"/>
<text x="408.4" y="717.2" font-size="12" text-anchor="end">10</text>
<line x1="410.4" y1="678.5" x2="414.8" y2="678.5" stroke="#000" stroke-width="1.7"/>
<text x="408.4" y="684.4" font-size="12" text-anchor="end">15</text>
<line x1="410.4" y1="645.7" x2="414.8" y2="645.7" stroke="#000" stroke-width="1.7"/>
<text x="408.4" y="651.6" font-size="12" text-anchor="end">20</text>
<line x1="410.4" y1="612.9" x2="414.8" y2="612.9" stroke="#000" stroke-width="1.7"/>
<text x="408.4" y="618.8" font-size="12" text-anchor="end">25</text>
<rect x="432.7" y="641.1" width="38.3" height="135.8" fill="#000"/>
<line x1="452" y1="641.1" x2="452" y2="639" stroke="#000" stroke-width="1.8"/>
<line x1="442.5" y1="639" x2="461.5" y2="639" stroke="#000" stroke-width="1.8"/>
<rect x="470.35" y="650.75" width="37.2" height="126.15" fill="#55A0FB" stroke="#000" stroke-width="1.3"/>
<line x1="489.2" y1="650.1" x2="489.2" y2="648.8" stroke="#000" stroke-width="1.8"/>
<line x1="479.7" y1="648.8" x2="498.7" y2="648.8" stroke="#000" stroke-width="1.8"/>
<rect x="543.8" y="650.1" width="38.4" height="126.8" fill="#000"/>
<line x1="563.2" y1="650.1" x2="563.2" y2="642.8" stroke="#000" stroke-width="1.8"/>
<line x1="553.6" y1="642.8" x2="572.8" y2="642.8" stroke="#000" stroke-width="1.8"/>
<rect x="581.55" y="704.65" width="36.9" height="72.25" fill="#55A0FB" stroke="#000" stroke-width="1.3"/>
<line x1="600.3" y1="704" x2="600.3" y2="695.8" stroke="#000" stroke-width="1.8"/>
<line x1="590.7" y1="695.8" x2="609.9" y2="695.8" stroke="#000" stroke-width="1.8"/>
<text x="485.4" y="651.3" font-size="19" textLength="7.6" lengthAdjust="spacingAndGlyphs">*</text>
<text x="589.3" y="699.1" font-size="19" textLength="24.4" lengthAdjust="spacingAndGlyphs">***</text>
<line x1="471" y1="776.9" x2="471" y2="782.1" stroke="#000" stroke-width="1.7"/>
<line x1="582.2" y1="776.9" x2="582.2" y2="782.1" stroke="#000" stroke-width="1.7"/>
<text x="431.2" y="803" font-size="17" textLength="84" lengthAdjust="spacingAndGlyphs">Lean Mass</text>
<text x="548.7" y="803" font-size="17" textLength="69.6" lengthAdjust="spacingAndGlyphs">Fat Mass</text>
</g>
</svg></body></html>
